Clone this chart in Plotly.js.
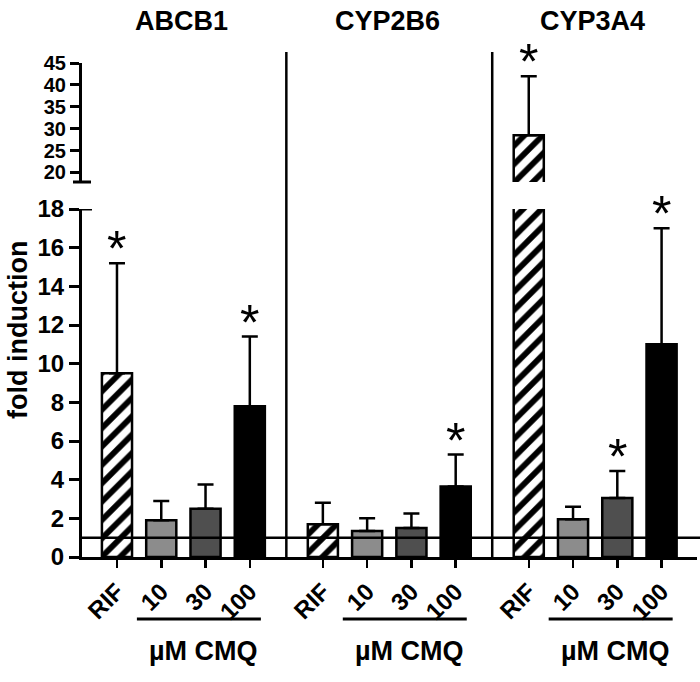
<!DOCTYPE html>
<html>
<head>
<meta charset="utf-8">
<script src="https://cdn.plot.ly/plotly-3.0.1.min.js"></script>
<style>
  body { margin: 0; }
  #plot { width: 700px; height: 682px; }
</style>
</head>
<body>
<div id="plot"></div>
<script>
// genes and treatments
let genes = ["ABCB1", "CYP2B6", "CYP3A4"];
let treatments = ["RIF", "10", "30", "100"];

// mean fold induction per gene (ABCB1, CYP2B6, CYP3A4)
let rifMean = [9.5, 1.7, 28.5];
let cmq10Mean = [1.9, 1.35, 1.95];
let cmq30Mean = [2.5, 1.5, 3.05];
let cmq100Mean = [7.8, 3.65, 11.0];

// upper error (SD)
let rifSd = [5.7, 1.1, 13.5];
let cmq10Sd = [1.0, 0.65, 0.65];
let cmq30Sd = [1.25, 0.75, 1.4];
let cmq100Sd = [3.6, 1.65, 6.0];

// significance (asterisk)
let rifSig = [1, 0, 1];
let cmq10Sig = [0, 0, 0];
let cmq30Sig = [0, 0, 1];
let cmq100Sig = [1, 1, 1];

let groupStride = 4.65;
function xpos(i) {
  return genes.map((g, gi) => gi * groupStride + i);
}

let barW = 0.68;
let font = "Liberation Sans, Arial, sans-serif";
let H = 682;
function py(px) { return (H - px) / H; }

function barTrace(i, means, sds, color, hatch, yaxis) {
  let marker = {
    color: color,
    line: {color: "black", width: 2.5}
  };
  if (hatch) {
    marker.pattern = {shape: "/", fgcolor: "black", bgcolor: "white", size: 13, solidity: 0.45};
  }
  return {
    type: "bar",
    x: xpos(i),
    y: means,
    width: barW,
    yaxis: yaxis,
    marker: marker,
    error_y: {
      type: "data",
      symmetric: false,
      array: sds,
      arrayminus: sds.map(() => 0),
      color: "black",
      thickness: 2.5,
      width: 8
    },
    showlegend: false,
    hoverinfo: "y"
  };
}

let traces = [
  barTrace(0, rifMean, rifSd, "white", true, "y"),
  barTrace(1, cmq10Mean, cmq10Sd, "#8c8c8c", false, "y"),
  barTrace(2, cmq30Mean, cmq30Sd, "#4f4f4f", false, "y"),
  barTrace(3, cmq100Mean, cmq100Sd, "black", false, "y"),
  barTrace(0, rifMean, rifSd, "white", true, "y2")
];

// asterisks above error bars
let annotations = [];
let allMeans = [rifMean, cmq10Mean, cmq30Mean, cmq100Mean];
let allSds = [rifSd, cmq10Sd, cmq30Sd, cmq100Sd];
let allSig = [rifSig, cmq10Sig, cmq30Sig, cmq100Sig];
allSig.forEach((sig, i) => {
  sig.forEach((s, gi) => {
    if (!s) return;
    let top = allMeans[i][gi] + allSds[i][gi];
    annotations.push({
      x: gi * groupStride + i, y: top, xref: "x", yref: top > 18 ? "y2" : "y",
      text: "*", showarrow: false, yanchor: "bottom", yshift: -16,
      font: {family: font, size: 50, color: "black"}
    });
  });
});

let shapes = [];
genes.forEach((g, gi) => {
  // gene title
  annotations.push({
    x: gi * groupStride + 1.45, y: py(21), xref: "x", yref: "paper",
    text: "<b>" + g + "</b>", showarrow: false, yanchor: "middle",
    font: {family: font, size: 27, color: "black"}
  });
  // µM CMQ bracket
  let x0 = gi * groupStride + 0.45;
  let x1 = gi * groupStride + 3.25;
  shapes.push({type: "line", xref: "x", yref: "paper", x0: x0, x1: x1,
    y0: py(619), y1: py(619), line: {color: "black", width: 3}});
  annotations.push({
    x: gi * groupStride + 1.95, y: py(651), xref: "x", yref: "paper",
    text: "<b>µM CMQ</b>", showarrow: false, yanchor: "middle",
    font: {family: font, size: 27, color: "black"}
  });
});

// y title
annotations.push({
  x: 18 / 700, y: py(330), xref: "paper", yref: "paper",
  text: "<b>fold induction</b>", textangle: -90, showarrow: false,
  xanchor: "center", yanchor: "middle",
  font: {family: font, size: 27, color: "black"}
});

// separators between genes
[0, 1].forEach(gi => {
  let xs = gi * groupStride + 3 + (groupStride - 3) / 2;
  shapes.push({type: "line", xref: "x", yref: "paper", x0: xs, x1: xs,
    y0: py(557), y1: py(52), line: {color: "black", width: 2.5}});
});

// baseline at 1
shapes.push({type: "line", xref: "paper", yref: "y", x0: 82 / 700, x1: 1, y0: 1, y1: 1,
  line: {color: "black", width: 2.5}});

// axis break caps
shapes.push({type: "line", xref: "paper", yref: "y", x0: 82 / 700, x1: 92 / 700, y0: 18, y1: 18,
  line: {color: "black", width: 3}});
shapes.push({type: "line", xref: "paper", yref: "paper", x0: 73 / 700, x1: 91 / 700,
  y0: py(182), y1: py(182), line: {color: "black", width: 3}});

let tickFont = {family: font, size: 24, color: "black"};

let layout = {
  width: 700,
  height: 682,
  margin: {l: 0, r: 0, t: 0, b: 0},
  paper_bgcolor: "white",
  plot_bgcolor: "white",
  barmode: "overlay",
  xaxis: {
    domain: [82 / 700, 697 / 700],
    range: [-0.79, 13.1],
    tickvals: [].concat(...genes.map((g, gi) => treatments.map((t, i) => gi * groupStride + i))),
    ticktext: [].concat(...genes.map(() => treatments.map(t => "<b>" + t + "</b>"))),
    tickangle: -45,
    ticks: "outside", ticklen: 8, tickwidth: 2.5, tickcolor: "black",
    showline: true, linewidth: 3, linecolor: "black",
    showgrid: false, zeroline: false,
    tickfont: tickFont,
    anchor: "y"
  },
  yaxis: {
    domain: [py(557), py(209)],
    range: [0, 18],
    tickvals: [0, 2, 4, 6, 8, 10, 12, 14, 16, 18],
    ticktext: ["0", "2", "4", "6", "8", "10", "12", "14", "16", "18"].map(t => "<b>" + t + "</b>"),
    ticks: "outside", ticklen: 10, tickwidth: 3, tickcolor: "black",
    showline: true, linewidth: 3, linecolor: "black",
    showgrid: false, zeroline: false,
    tickfont: tickFont,
    anchor: "x"
  },
  yaxis2: {
    domain: [py(182), py(63)],
    range: [17.8, 45],
    tickvals: [20, 25, 30, 35, 40, 45],
    ticktext: ["20", "25", "30", "35", "40", "45"].map(t => "<b>" + t + "</b>"),
    ticks: "outside", ticklen: 9, tickwidth: 3, tickcolor: "black",
    showline: true, linewidth: 3, linecolor: "black",
    showgrid: false, zeroline: false,
    tickfont: {family: font, size: 20, color: "black"},
    anchor: "x"
  },
  annotations: annotations,
  shapes: shapes
};

Plotly.newPlot("plot", traces, layout, {displayModeBar: false, staticPlot: true});
</script>
</body>
</html>
